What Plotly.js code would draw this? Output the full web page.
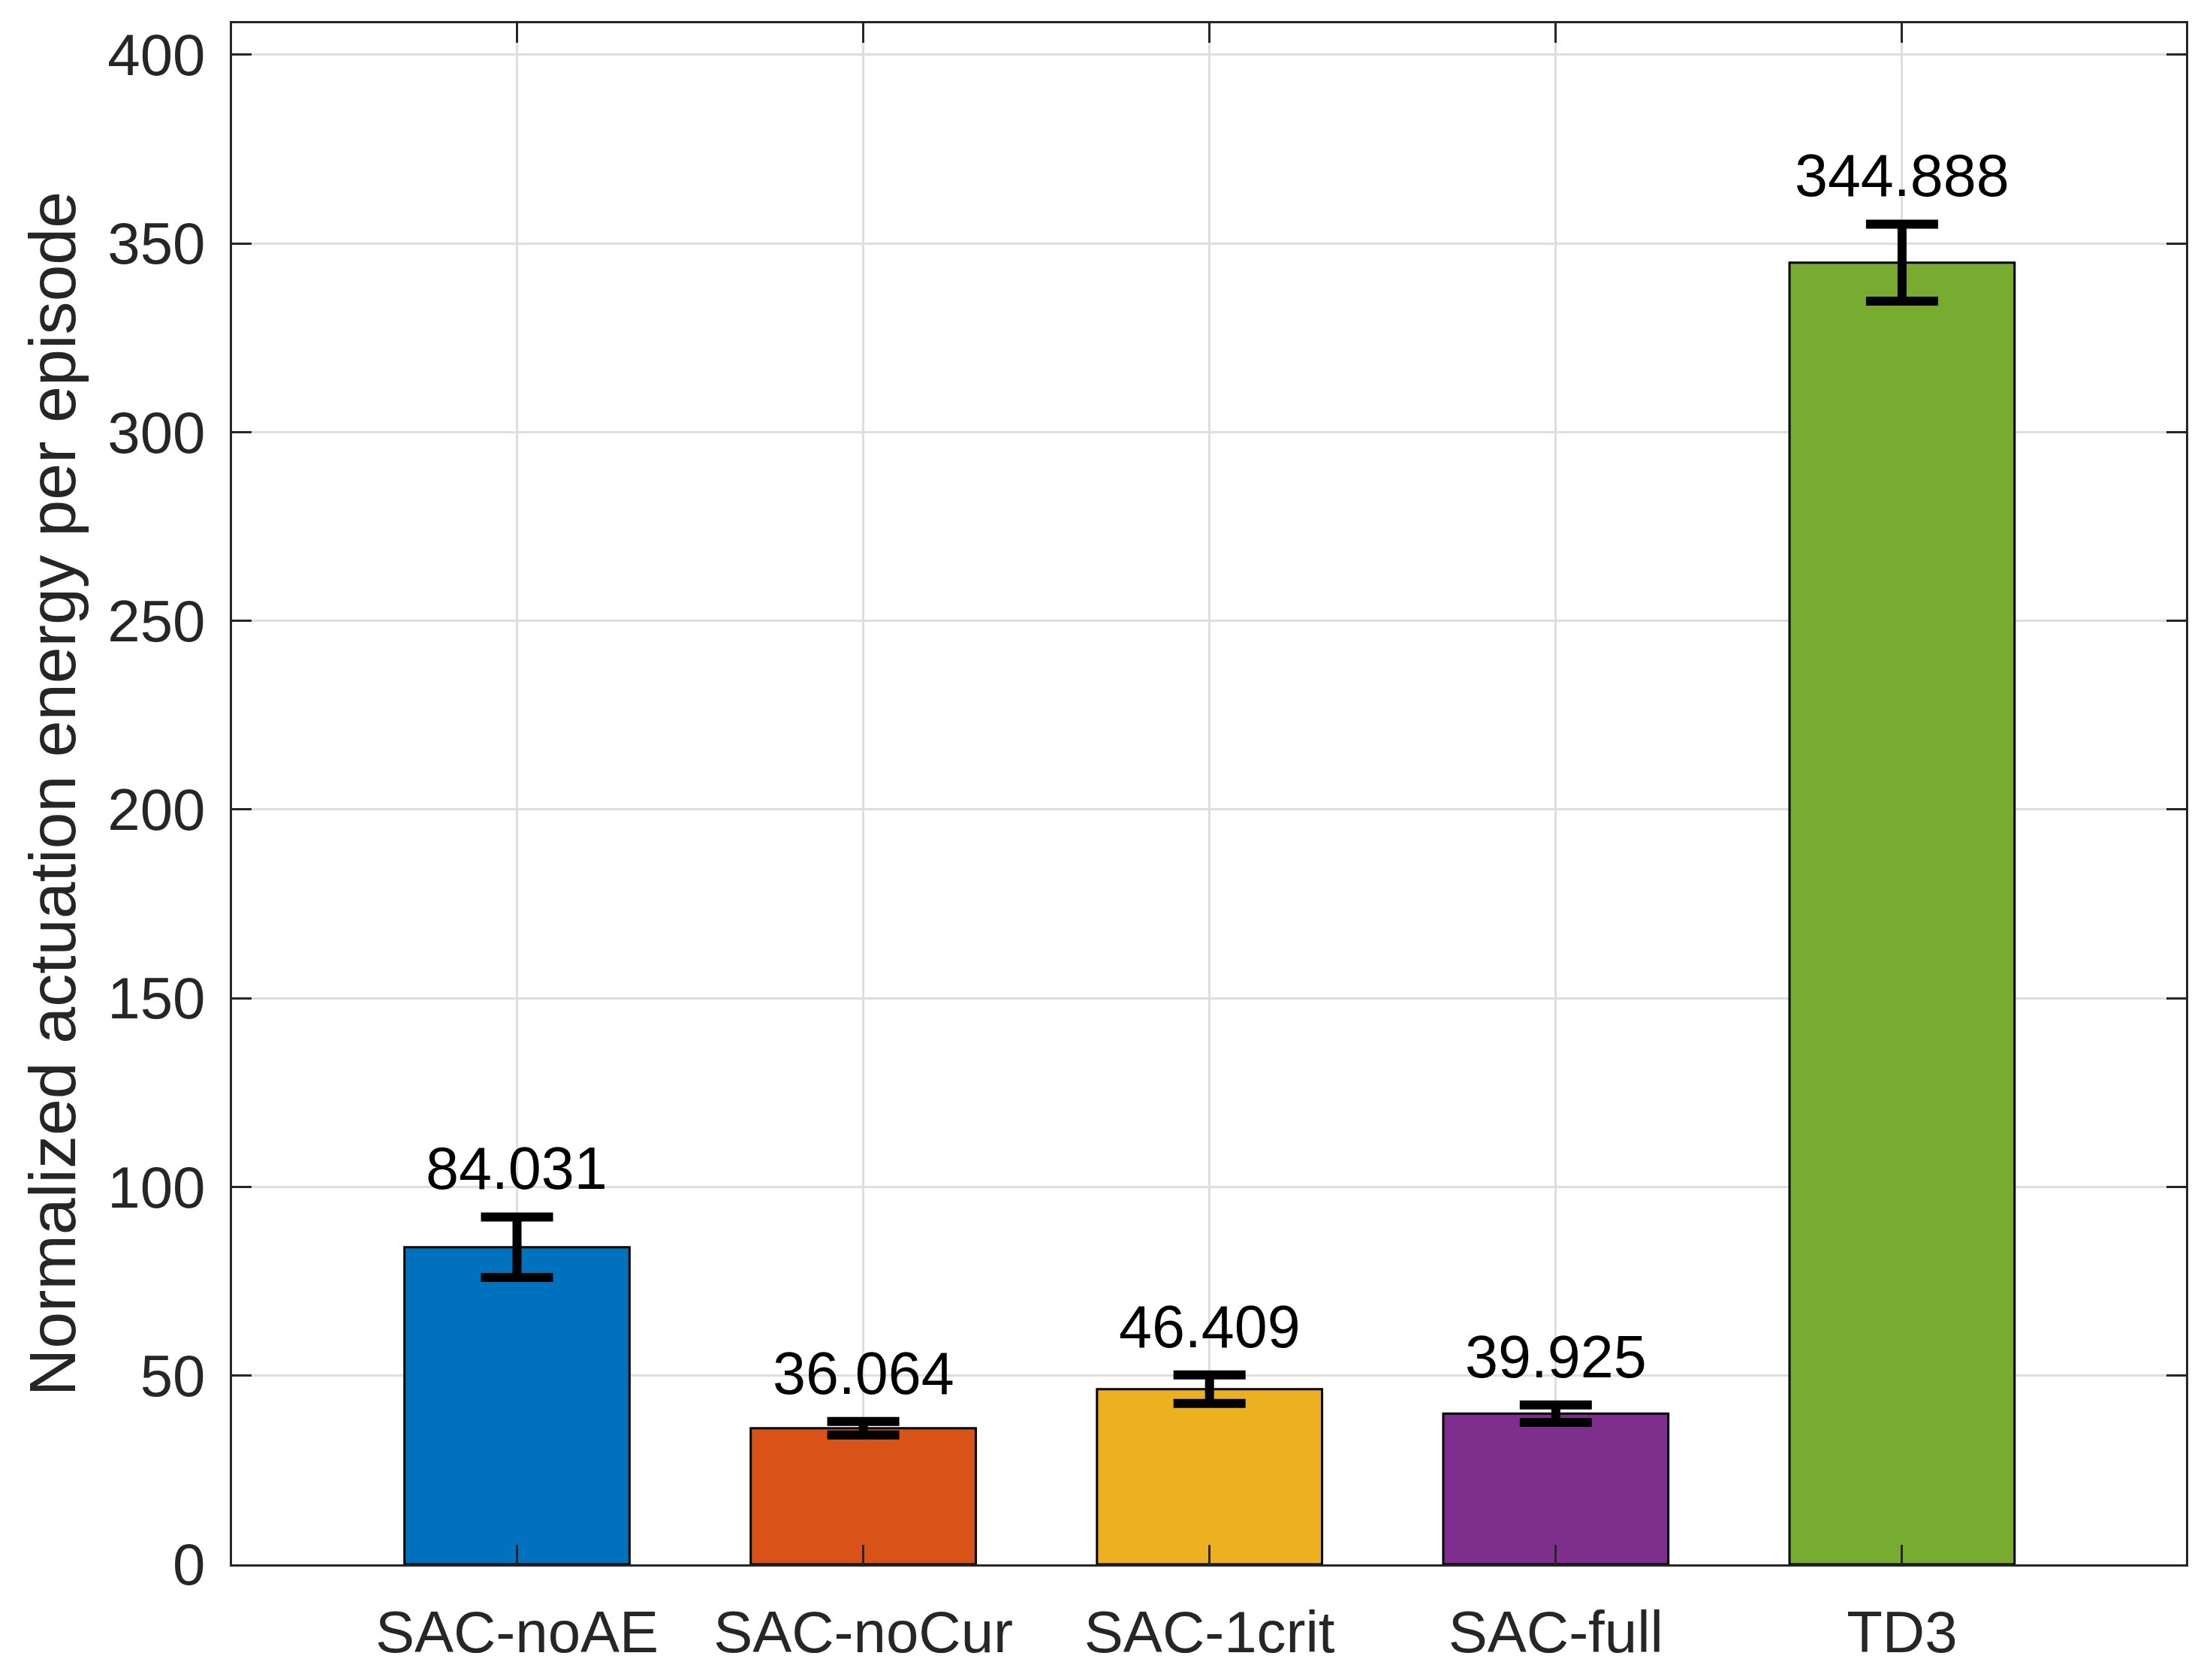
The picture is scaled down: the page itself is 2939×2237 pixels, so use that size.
<!DOCTYPE html>
<html>
<head>
<meta charset="utf-8">
<script src="https://cdn.plot.ly/plotly-3.0.1.min.js"></script>
<style>
  html, body { margin: 0; padding: 0; background: #fff; }
  #chart { width: 2939px; height: 2237px; }
</style>
</head>
<body>
<div id="chart"></div>
<script>
// Mean normalized actuation energy per episode, with error bar half-lengths
const methods = ['SAC-noAE', 'SAC-noCur', 'SAC-1crit', 'SAC-full', 'TD3'];
const energy = [84.031, 36.064, 46.409, 39.925, 344.888];
const errors = [8.0, 1.8, 3.8, 2.3, 10.2];
const barColors = ['#0072BD', '#D95319', '#EDB120', '#7E2F8E', '#77AC30'];
const yTicks = [0, 50, 100, 150, 200, 250, 300, 350, 400];

const font = 'Liberation Sans, Arial, Helvetica, sans-serif';
const axisColor = '#262626';

const idx = methods.map((_, i) => i);

const bars = {
  type: 'bar',
  x: idx,
  y: energy,
  width: 0.65,
  marker: { color: barColors, line: { color: '#000', width: 3 } },
  error_y: { type: 'data', array: errors, visible: true, color: '#000', thickness: 12, width: 48 },
  hoverinfo: 'y'
};

// value labels above each error bar
const labels = idx.map(i => ({
  x: i, y: energy[i] + errors[i],
  xref: 'x', yref: 'y',
  text: energy[i].toFixed(3),
  showarrow: false,
  yanchor: 'bottom',
  yshift: 18,
  font: { family: font, size: 79, color: '#000' }
}));

const axisBase = {
  showline: true, linecolor: axisColor, linewidth: 3,
  mirror: 'ticks',
  ticks: 'inside', ticklen: 26, tickwidth: 3, tickcolor: axisColor,
  showgrid: true, gridcolor: '#dedede', gridwidth: 3,
  zeroline: false,
  tickfont: { family: font, size: 78, color: axisColor }
};

const layout = {
  width: 2939, height: 2237,
  margin: { l: 309, r: 28, t: 31, b: 154 },
  paper_bgcolor: '#fff', plot_bgcolor: '#fff',
  showlegend: false,
  xaxis: {
    ...axisBase,
    range: [-0.823, 4.82],
    tickmode: 'array', tickvals: idx, ticktext: methods,
    ticklabelstandoff: 20
  },
  yaxis: {
    ...axisBase,
    range: [0, 408.3],
    tickmode: 'array', tickvals: yTicks,
    ticklabelstandoff: 17,
    title: { text: 'Normalized actuation energy per episode', standoff: 14,
             font: { family: font, size: 88, color: axisColor } }
  },
  annotations: labels
};

Plotly.newPlot('chart', [bars], layout, { displayModeBar: false, staticPlot: true });
</script>
</body>
</html>
